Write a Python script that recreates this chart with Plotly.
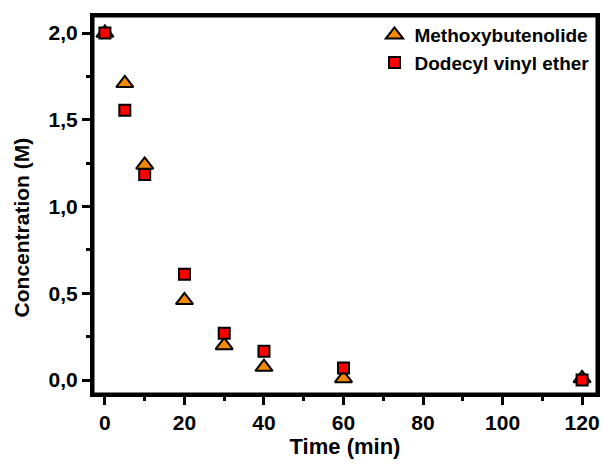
import plotly.graph_objects as go

time_min = [0, 5, 10, 20, 30, 40, 60, 120]
methoxybutenolide = [2.0, 1.71, 1.24, 0.46, 0.20, 0.075, 0.01, 0.01]
dodecyl_vinyl_ether = [2.0, 1.555, 1.185, 0.61, 0.27, 0.167, 0.07, 0.0]

x_ticks = [0, 20, 40, 60, 80, 100, 120]
y_ticks = [0.0, 0.5, 1.0, 1.5, 2.0]

font_family = "Liberation Sans, Arial, sans-serif"
W, H = 603, 465
ML, MR, MT, MB = 93, 3, 16, 71
PW, PH = W - ML - MR, H - MT - MB

fig = go.Figure()
fig.add_trace(go.Scatter(
    x=time_min, y=methoxybutenolide, mode="markers", name="<b>Methoxybutenolide</b>",
    marker=dict(symbol="triangle-up", size=15, color="#F58A00",
                line=dict(color="black", width=2)),
))
fig.add_trace(go.Scatter(
    x=time_min, y=dodecyl_vinyl_ether, mode="markers", name="<b>Dodecyl vinyl ether</b>",
    marker=dict(symbol="square", size=11, color="#FF0000",
                line=dict(color="black", width=2)),
))

fig.update_layout(
    width=W, height=H,
    margin=dict(l=ML, r=MR, t=MT, b=MB),
    paper_bgcolor="white", plot_bgcolor="white",
    font=dict(family=font_family, color="black"),
    legend=dict(x=0.995, y=1.0, xanchor="right", yanchor="top",
                bgcolor="rgba(0,0,0,0)", font=dict(size=19), tracegroupgap=0),
)

# plot frame
fig.add_shape(type="rect", xref="paper", yref="paper", x0=0, y0=0, x1=1, y1=1,
              line=dict(color="black", width=3), layer="above")

# y-axis title as annotation (sits slightly below centre in the reference)
fig.add_annotation(text="<b>Concentration (M)</b>", textangle=-90,
                   xref="paper", yref="paper", x=-71 / PW, y=(H - MB - 227) / PH,
                   xanchor="center", yanchor="middle", showarrow=False,
                   font=dict(size=21, family=font_family, color="black"))

fig.update_xaxes(
    showline=True, linecolor="black", linewidth=3, mirror=True,
    ticks="outside", tickwidth=3, ticklen=8, tickcolor="black",
    minor=dict(ticks="outside", ticklen=4, tickwidth=3, tickcolor="black", dtick=10),
    showgrid=False, zeroline=False, tickfont=dict(size=21),
    range=[-3, 123.75], tickvals=x_ticks,
    ticktext=["<b>%d</b>" % v for v in x_ticks],
    title=dict(text="<b>Time (min)</b>", font=dict(size=22), standoff=6),
)
fig.update_yaxes(
    showline=True, linecolor="black", linewidth=3, mirror=True,
    ticks="outside", tickwidth=3, ticklen=8, tickcolor="black",
    minor=dict(ticks="outside", ticklen=4, tickwidth=3, tickcolor="black", dtick=0.25),
    showgrid=False, zeroline=False, tickfont=dict(size=21),
    range=[-0.08, 2.098], tickvals=y_ticks,
    ticktext=["<b>" + ("%.1f" % v).replace(".", ",") + "</b>" for v in y_ticks],
)

fig.write_html("out.html")
